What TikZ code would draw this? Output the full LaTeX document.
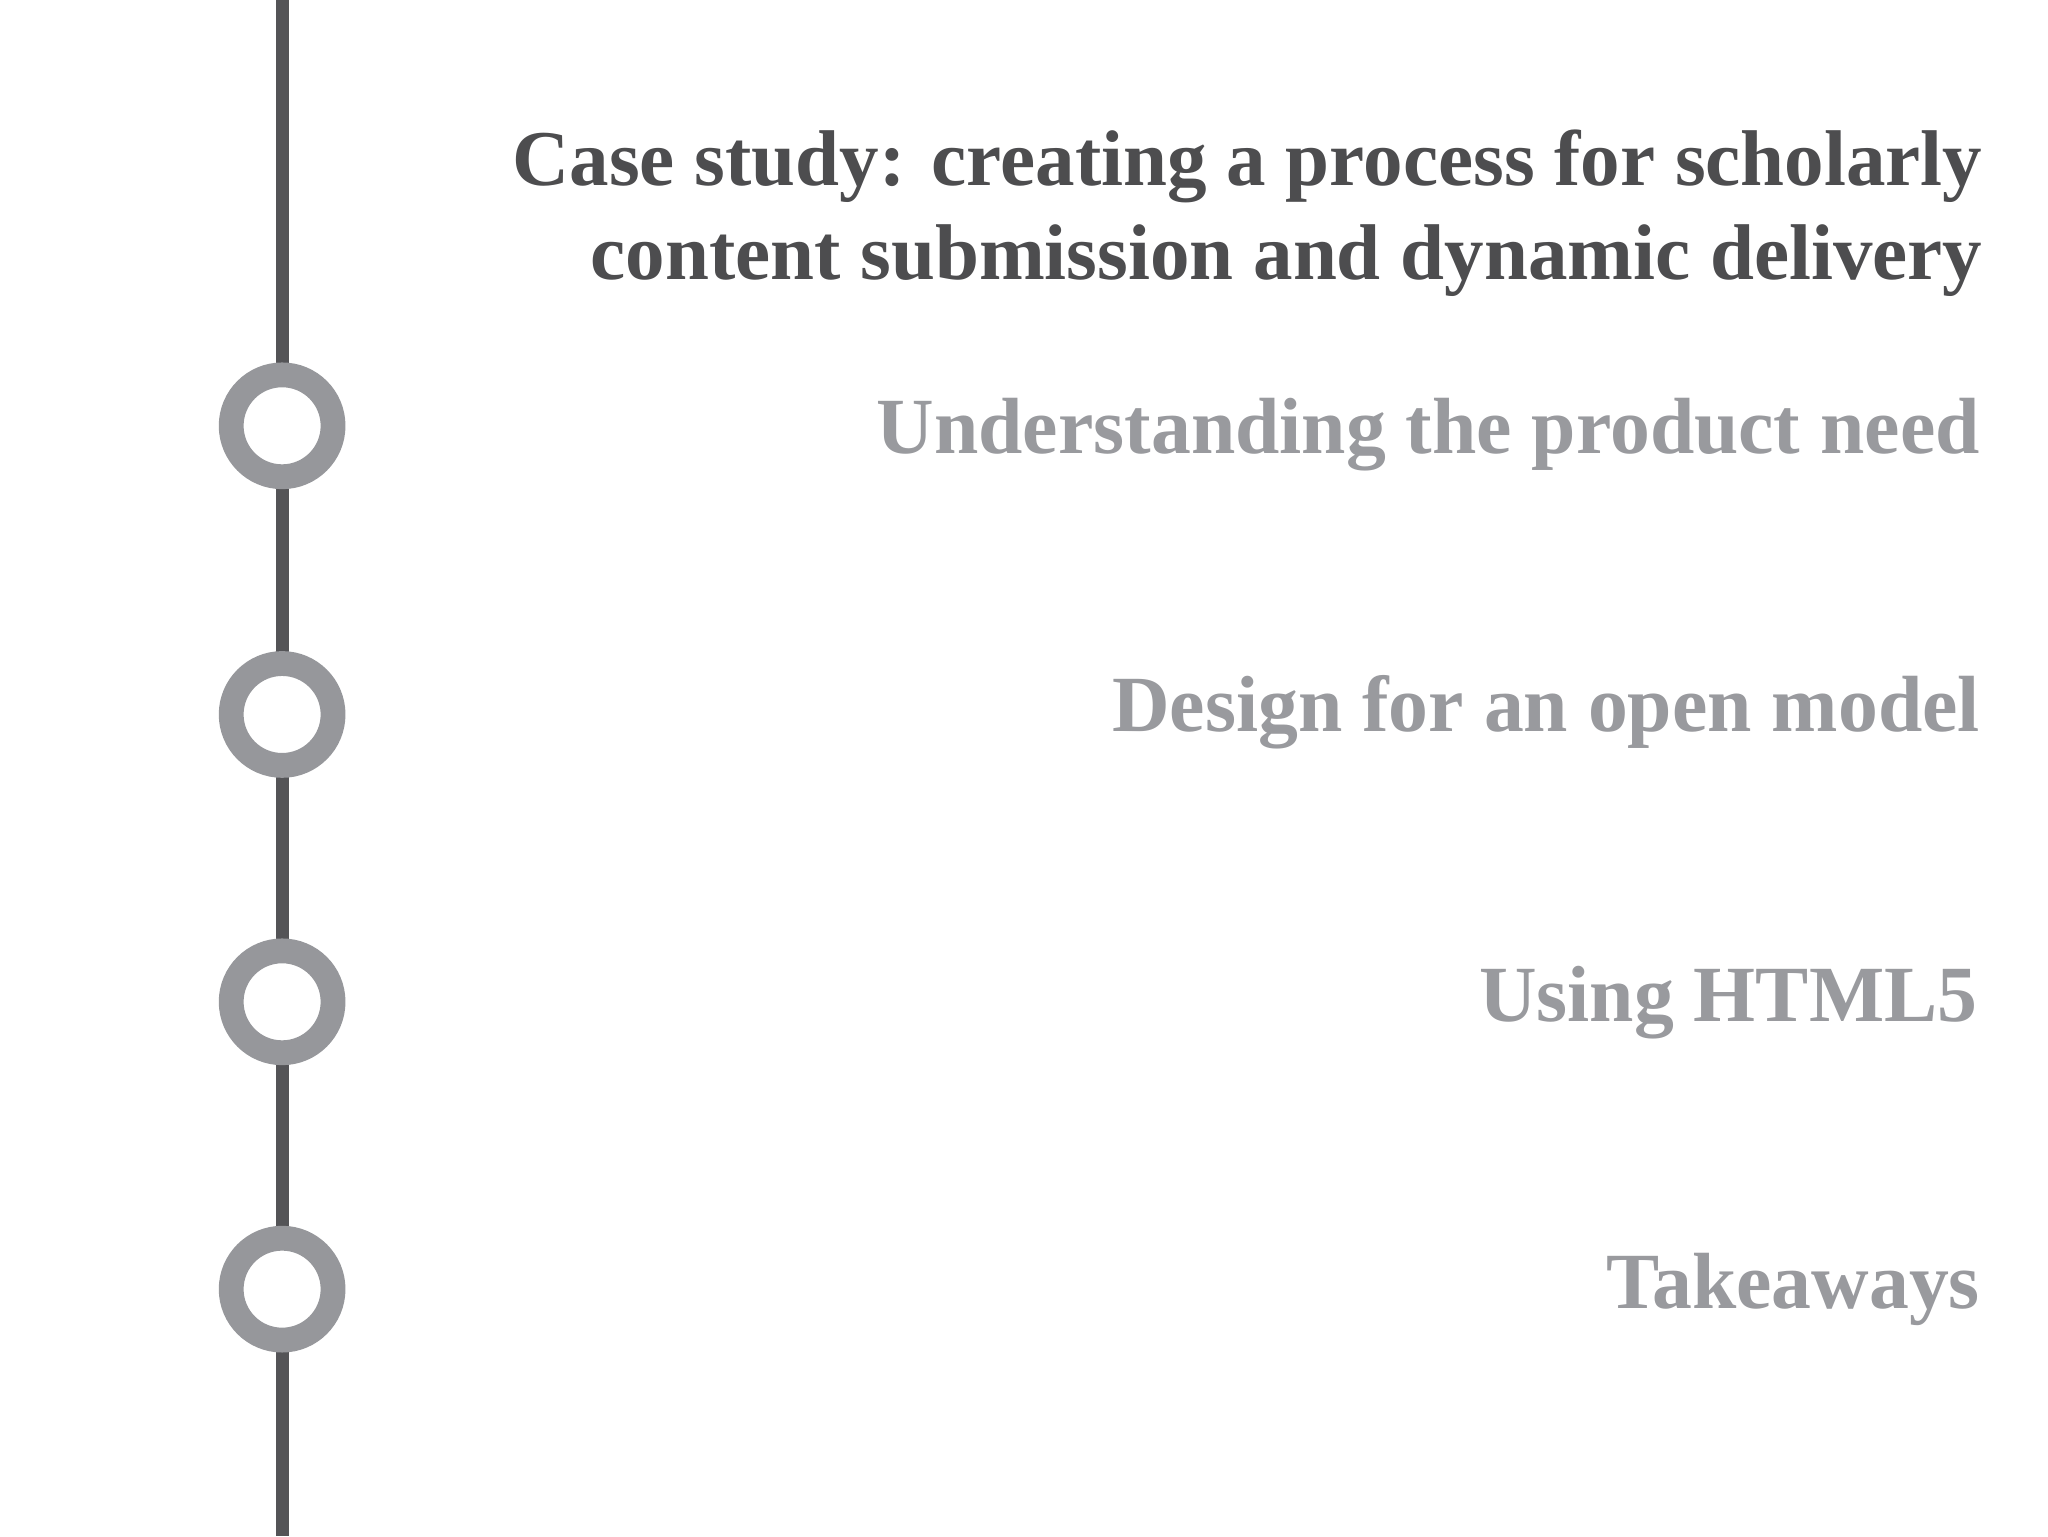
\documentclass[tikz,border=0pt]{standalone}
\usepackage{fontspec}
\setmainfont{Liberation Serif}
\definecolor{linec}{HTML}{545457}
\definecolor{ringc}{HTML}{96979B}
\definecolor{titlec}{HTML}{4D4D4F}
\definecolor{itemc}{HTML}{999A9E}
\begin{document}
\begin{tikzpicture}[x=1pt,y=-1pt,
  ring/.style={circle,draw=ringc,line width=19pt,fill=white,minimum size=78pt,inner sep=0pt},
  item/.style={anchor=base east,text=itemc,font=\fontsize{61}{72}\selectfont\bfseries,inner sep=0pt}]
\useasboundingbox (0,0) rectangle (1568,1176);
\coordinate (top) at (216,0);
\coordinate (bot) at (216,1176);
\draw[linec,line width=10pt] (top) -- (bot);
\node[ring] (c1) at (216,326) {};
\node[ring] (c2) at (216,547) {};
\node[ring] (c3) at (216,767) {};
\node[ring] (c4) at (216,987) {};
\node[anchor=north east,align=right,text=titlec,font=\fontsize{60.5}{72}\selectfont\bfseries,inner sep=0pt] (title) at (1518,99)
 {Case study: creating a process for scholarly\\content submission and dynamic delivery};
\node[item] (i1) at (1516,347) {Understanding the product need};
\node[item] (i2) at (1516,560) {Design for an open model};
\node[item] (i3) at (1514,782) {Using HTML5};
\node[item] (i4) at (1516,1002) {Takeaways};
\end{tikzpicture}
\end{document}
